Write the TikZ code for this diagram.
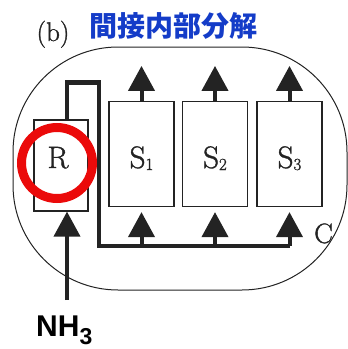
\documentclass[tikz,border=0pt]{standalone}
\usepackage{fontspec}
\newfontfamily\cjk{Noto Sans CJK JP}
\newfontfamily\labelsans{Liberation Sans}
\newfontfamily\scanserif{Latin Modern Roman}[FakeBold=1.2]
\usetikzlibrary{arrows.meta,positioning}
\definecolor{inkgray}{RGB}{35,35,35}
\definecolor{titleblue}{RGB}{20,60,200}
\definecolor{ringred}{RGB}{235,10,10}
\newcommand{\stagename}[1]{S\raisebox{-2pt}{\fontsize{17}{18}\selectfont #1}}

\begin{document}
\begin{tikzpicture}[
  x=1pt,y=-1pt,
  every node/.style={text=inkgray},
  unit/.style={draw=inkgray,line width=1.2pt,minimum width=65pt,minimum height=105pt,inner sep=0pt,
    text height=28pt,text depth=0pt,font=\scanserif\fontsize{31}{33}\selectfont},
  flow/.style={draw=inkgray,line width=4pt,-{Triangle[width=26pt,length=25pt]}},
  loop/.style={draw=inkgray,line width=4.5pt}
]
\useasboundingbox (0,0) rectangle (348,349);
\node[draw=inkgray,line width=1pt,rounded corners=105pt,minimum width=334pt,minimum height=243pt] (vessel) at (180,168.5) {};
\node[font=\scanserif\fontsize{27}{29}\selectfont,anchor=base] (tag) at (53,41) {(b)};
\node[font=\cjk\bfseries\fontsize{28}{32}\selectfont,text=titleblue,anchor=west] (title) at (86,26) {間接内部分解};
% reformer and the three stages
\node[unit,minimum width=54pt,minimum height=91pt] (R) at (61,165.5) {};
\node[font=\scanserif\fontsize{31}{33}\selectfont,anchor=base] (rtext) at (58,168) {R};
\node[unit] (S1) at (141.5,154) {\stagename{1}};
\node[unit] (S2) at (215,154) {\stagename{2}};
\node[unit] (S3) at (289.5,154) {\stagename{3}};
\node[font=\scanserif\fontsize{28}{30}\selectfont,anchor=base] (C) at (323.5,243) {C};
\node[font=\labelsans\bfseries\fontsize{30}{32}\selectfont,text=black,anchor=base west,inner sep=0pt] (nh3) at (36,336)
  {NH\raisebox{-8pt}{\fontsize{23}{24}\selectfont 3}};
% feed, recycle line and outlets
\coordinate (feed) at (67,300);
\coordinate (bus) at (99,246);
\draw[flow] (feed) -- (feed |- R.south);
\draw[loop] (R.north -| feed) -- ++(0,-37) -| (bus) -- (bus -| S3.south);
\foreach \s in {S1,S2,S3} {
  \draw[flow,shorten >=5pt] (\s.south |- bus) -- (\s.south);
  \draw[flow] (\s.north) -- ++(0,-35);
}
\draw[ringred,line width=9pt] (57,163) circle (35.5pt);
\end{tikzpicture}
\end{document}
